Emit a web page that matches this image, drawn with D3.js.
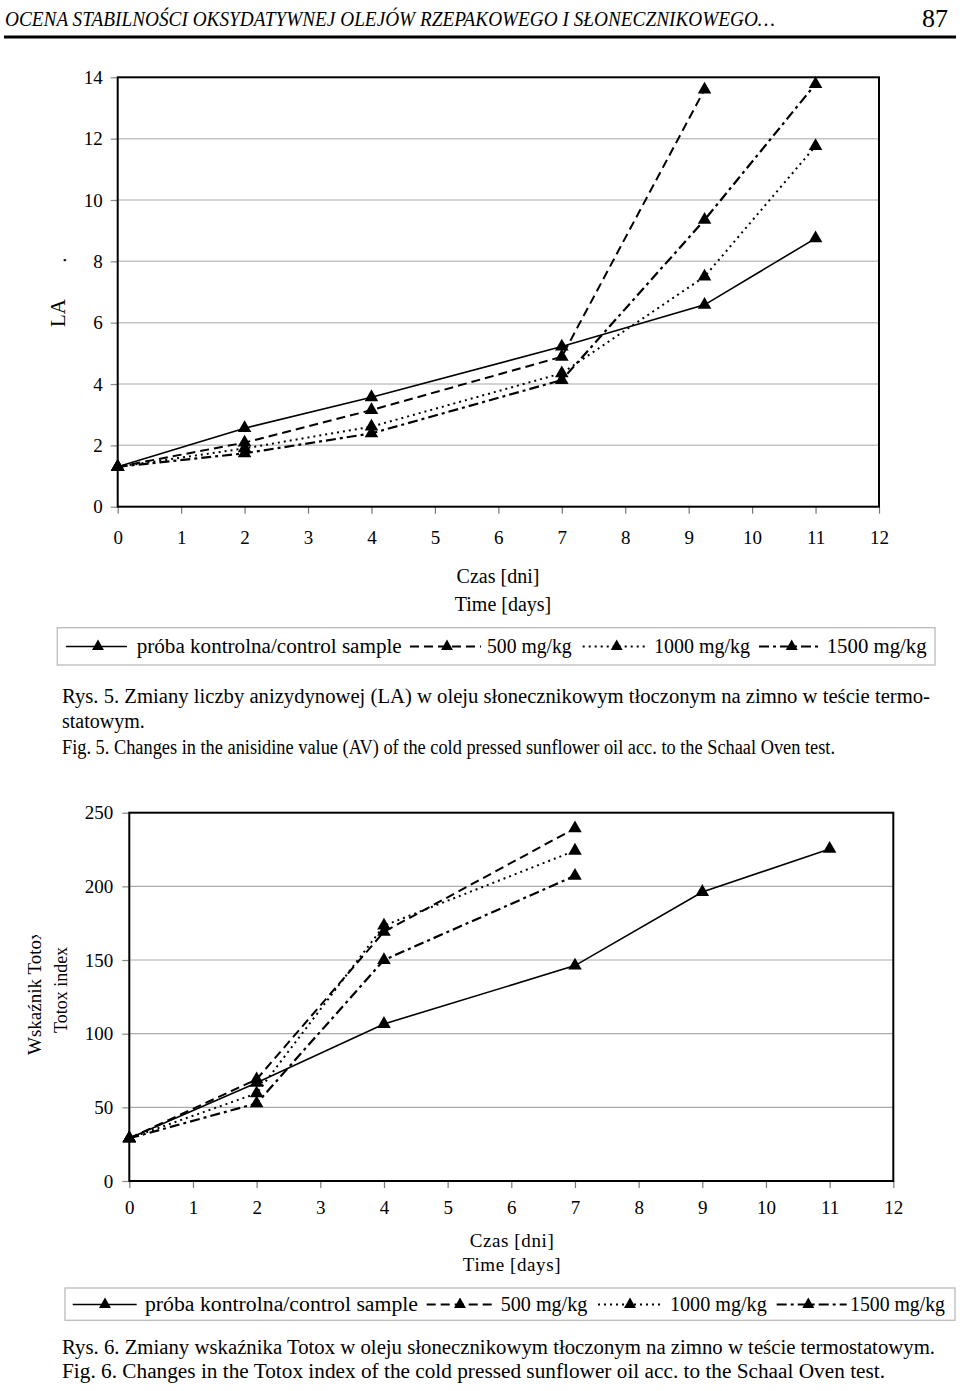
<!DOCTYPE html>
<html><head><meta charset="utf-8">
<script src="https://cdn.jsdelivr.net/npm/d3@7"></script>
<style>
body{margin:0;background:#fff}
svg{display:block}
text{font-family:"Liberation Serif","Times New Roman",serif;fill:#000}
</style>
</head><body>
<svg id="c" width="960" height="1391"></svg>
<script>
// ---------- DATA ----------
const xTickDays = [0,1,2,3,4,5,6,7,8,9,10,11,12];
const laTicks = [0,2,4,6,8,10,12,14];
const totoxTicks = [0,50,100,150,200,250];

const seriesLabels = ["próba kontrolna/control sample","500 mg/kg","1000 mg/kg","1500 mg/kg"];

// Fig. 5 – anisidine value (LA)
const laDays = [0,2,4,7,9.25,11];
const laControl = [1.3,2.56,3.57,5.22,6.58,8.75];
const la500     = [1.3,2.09,3.15,4.89,13.6];
const la1000    = [1.3,1.9,2.61,4.35,7.5,11.76];
const la1500    = [1.3,1.74,2.39,4.13,9.35,13.78];

// Fig. 6 – Totox index
const totoxDays = [0,2,4,7,9,11];
const totoxControl = [29,66.7,106.6,146.2,196.2,225.4];
const totox500     = [29,69,169.2,239.4];
const totox1000    = [29,59.5,173.3,224.2];
const totox1500    = [29,52.7,150,207.2];

// ---------- STYLE ----------
const styles = [
  {dash:null, w:1.6},
  {dash:"9,5", w:2},
  {dash:"2,4", w:2},
  {dash:"10,4,3,4", w:2.2}
];
const FONT = "Liberation Serif, Times New Roman, serif";
const svg = d3.select("#c");
svg.append("rect").attr("width",960).attr("height",1391).attr("fill","#fff");

// ---------- HEADER ----------
svg.append("text").attr("x",5).attr("y",26).attr("font-size",20).attr("font-style","italic")
  .attr("textLength",770).attr("lengthAdjust","spacingAndGlyphs")
  .text("OCENA STABILNOŚCI OKSYDATYWNEJ OLEJÓW RZEPAKOWEGO I SŁONECZNIKOWEGO…");
svg.append("text").attr("x",948).attr("y",27).attr("font-size",26).attr("text-anchor","end").text("87");
svg.append("line").attr("x1",4).attr("x2",956).attr("y1",37).attr("y2",37).attr("stroke","#000").attr("stroke-width",3);

const tri = d3.symbol().type(d3.symbolTriangle).size(80);
const triSmall = d3.symbol().type(d3.symbolTriangle).size(62);

function chart(o){
  const x = d3.scaleLinear().domain([0,12]).range([o.left,o.right]);
  const y = d3.scaleLinear().domain([0,o.ymax]).range([o.bottom,o.top]);
  const g = svg.append("g");
  g.append("g").selectAll("line").data(o.yTicks.filter(v=>v>0 && v<o.ymax)).join("line")
    .attr("x1",o.left).attr("x2",o.right).attr("y1",d=>y(d)).attr("y2",d=>y(d))
    .attr("stroke",o.grid).attr("stroke-width",o.gridW);
  const ya = g.append("g").attr("transform",`translate(${o.left},0)`)
    .call(d3.axisLeft(y).tickValues(o.yTicks).tickSize(7).tickPadding(o.yPad).tickFormat(d3.format("d")));
  ya.select(".domain").remove();
  ya.attr("font-size",o.fs).attr("font-family",FONT);
  ya.selectAll("line").attr("stroke","#888").attr("stroke-width",1.2);
  const xa = g.append("g").attr("transform",`translate(0,${o.bottom})`)
    .call(d3.axisBottom(x).tickValues(xTickDays).tickSize(7).tickPadding(o.xPad).tickFormat(d3.format("d")));
  xa.select(".domain").remove();
  xa.attr("font-size",o.fs).attr("font-family",FONT);
  xa.selectAll("line").attr("stroke","#777").attr("stroke-width",1.2);
  g.append("rect").attr("x",o.left).attr("y",o.top).attr("width",o.right-o.left).attr("height",o.bottom-o.top)
    .attr("fill","none").attr("stroke","#000").attr("stroke-width",2);
  o.series.forEach((s,i)=>{
    const pts = s.map((v,j)=>[o.days[j],v]);
    g.append("path").datum(pts)
      .attr("d",d3.line().x(d=>x(d[0])).y(d=>y(d[1])))
      .attr("fill","none").attr("stroke","#000").attr("stroke-width",styles[i].w)
      .attr("stroke-dasharray",styles[i].dash);
  });
  o.series.forEach((s,i)=>{
    const pts = s.map((v,j)=>[o.days[j],v]);
    g.append("g").selectAll("path").data(pts).join("path")
      .attr("d",tri).attr("fill","#000")
      .attr("transform",d=>`translate(${x(d[0])},${y(d[1])})`);
  });
}

function legend(o){
  const g = svg.append("g");
  g.append("rect").attr("x",o.x0).attr("y",o.y0).attr("width",o.x1-o.x0).attr("height",o.y1-o.y0)
    .attr("fill","#fff").attr("stroke","#bbb").attr("stroke-width",1.3);
  o.items.forEach((it,i)=>{
    g.append("line").attr("x1",it.a).attr("x2",it.b).attr("y1",o.cy).attr("y2",o.cy)
      .attr("stroke","#000").attr("stroke-width",styles[i].w).attr("stroke-dasharray",styles[i].dash);
    g.append("path").attr("d",triSmall).attr("transform",`translate(${it.t},${o.cy})`).attr("fill","#000");
    g.append("text").attr("x",it.l).attr("y",o.cy+6).attr("font-size",20)
      .attr("textLength",it.len).attr("lengthAdjust","spacingAndGlyphs").text(seriesLabels[i]);
  });
}

// ---------- FIG 5 ----------
chart({left:117.7,right:879,top:77.3,bottom:506.7,ymax:14,yTicks:laTicks,fs:19,yPad:8,xPad:17,
  grid:"#c4c4c4",gridW:1.5,days:laDays,series:[laControl,la500,la1000,la1500]});
svg.append("text").attr("transform","translate(65,313) rotate(-90)").attr("text-anchor","middle")
  .attr("font-size",21).text("LA");
svg.append("text").attr("transform","translate(66,260) rotate(-90)").attr("text-anchor","middle")
  .attr("font-size",21).text(".");
svg.append("text").attr("x",498).attr("y",583).attr("text-anchor","middle").attr("font-size",20).text("Czas [dni]");
svg.append("text").attr("x",503).attr("y",611).attr("text-anchor","middle").attr("font-size",20).text("Time [days]");
legend({x0:57.3,x1:935,y0:627.7,y1:665,cy:646.5,items:[
  {a:66,b:127,t:98,l:136.7,len:265},
  {a:410,b:481,t:447,l:487,len:84.7},
  {a:582.7,b:646.7,t:616.7,l:654,len:96},
  {a:759,b:820,t:791.7,l:826.7,len:100}]});
svg.append("text").attr("x",62).attr("y",703).attr("font-size",20).attr("textLength",868).attr("lengthAdjust","spacingAndGlyphs")
  .text("Rys. 5. Zmiany liczby anizydynowej (LA) w oleju słonecznikowym tłoczonym na zimno w teście termo-");
svg.append("text").attr("x",62).attr("y",728).attr("font-size",20).text("statowym.");
svg.append("text").attr("x",62).attr("y",754).attr("font-size",20).attr("textLength",773).attr("lengthAdjust","spacingAndGlyphs")
  .text("Fig. 5. Changes in the anisidine value (AV) of the cold pressed sunflower oil acc. to the Schaal Oven test.");

// ---------- FIG 6 ----------
chart({left:129.3,right:893.3,top:812.7,bottom:1181,ymax:250,yTicks:totoxTicks,fs:19,yPad:9,xPad:13,
  grid:"#aaa",gridW:1.2,days:totoxDays,series:[totoxControl,totox500,totox1000,totox1500]});
svg.append("clipPath").attr("id","ylab").append("rect").attr("x",0).attr("y",935).attr("width",100).attr("height",300);
svg.append("g").attr("clip-path","url(#ylab)")
  .append("text").attr("transform","translate(40.7,1055) rotate(-90)")
  .attr("font-size",19).text("Wskaźnik Totox");
svg.append("text").attr("transform","translate(66.5,990) rotate(-90)").attr("text-anchor","middle")
  .attr("font-size",18).text("Totox index");
svg.append("text").attr("x",512).attr("y",1247).attr("text-anchor","middle").attr("font-size",19).attr("letter-spacing",0.6).text("Czas [dni]");
svg.append("text").attr("x",512).attr("y",1271).attr("text-anchor","middle").attr("font-size",19).attr("letter-spacing",0.6).text("Time [days]");
legend({x0:65,x1:955,y0:1288,y1:1320.3,cy:1304.5,items:[
  {a:72.7,b:136.7,t:105,l:145,len:273},
  {a:426.7,b:496,t:460,l:500.7,len:86.6},
  {a:598,b:661.7,t:630,l:670,len:96.7},
  {a:776.7,b:846.7,t:808.3,l:850,len:95}]});
svg.append("text").attr("x",62).attr("y",1354).attr("font-size",20).attr("textLength",873).attr("lengthAdjust","spacingAndGlyphs")
  .text("Rys. 6. Zmiany wskaźnika Totox w oleju słonecznikowym tłoczonym na zimno w teście termostatowym.");
svg.append("text").attr("x",62).attr("y",1378).attr("font-size",20).attr("textLength",823).attr("lengthAdjust","spacingAndGlyphs")
  .text("Fig. 6. Changes in the Totox index of the cold pressed sunflower oil acc. to the Schaal Oven test.");
</script>
</body></html>
